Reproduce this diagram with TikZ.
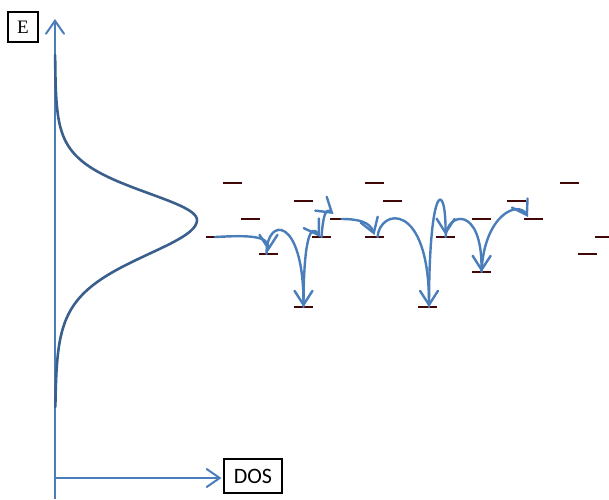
\documentclass[tikz,border=0pt]{standalone}
\usepackage{fontspec}
\newfontfamily\dosfont{Carlito}
\newfontfamily\efont{Liberation Serif}
\usetikzlibrary{arrows.meta}
\definecolor{hopblue}{HTML}{4A7EBB}
\definecolor{dosblue}{HTML}{3A5F8C}
\definecolor{levelred}{HTML}{420808}
\begin{document}
\begin{tikzpicture}[x=1pt,y=-1pt,
  level/.style={fill=levelred, draw=none, minimum width=19pt, minimum height=2.2pt, inner sep=0pt, outer sep=0pt},
  hop/.style={draw=hopblue, line width=2.4pt, line cap=round, line join=round,
              -{Straight Barb[length=14pt,width=18pt,line cap=round]}},
  axisline/.style={draw=hopblue, line width=2pt,
              -{Straight Barb[length=13pt,width=18pt,line cap=round]}},
  dosline/.style={draw=dosblue, line width=2.6pt, line cap=round},
  labelbox/.style={draw=black, line width=1.1pt, inner sep=0pt}]
\useasboundingbox (0,0) rectangle (609,499);

% energy axis and DOS axis
\coordinate (ybot) at (55,499);
\coordinate (ytop) at (55,19);
\coordinate (O) at (55,478);
\node[labelbox, minimum size=30pt, font=\efont\fontsize{19}{22}\selectfont] (E) at (23,27) {E};
\node[labelbox, minimum width=58pt, minimum height=34pt, font=\dosfont\fontsize{22}{24}\selectfont] (DOS) at (253,476) {DOS};
\draw[axisline] (ybot) -- (ytop);
\draw[axisline, shorten >=2pt] (O) -- (O -| DOS.west);

% density of states profile
\draw[dosline] plot[domain=55:220, samples=90, smooth] ({55+142/(cosh((\x-220)/40)^2)}, \x)
  -- plot[domain=220:407, samples=90, smooth] ({55+142/(cosh((\x-220)/51)^2)}, \x);

% localized states
\node[level] (L1)  at (232.5,183) {};
\node[level] (L2)  at (303.5,201) {};
\node[level] (L3)  at (374.5,183) {};
\node[level] (L4)  at (392.5,201) {};
\node[level] (L5)  at (250.5,219) {};
\node[level] (L6)  at (339.5,219) {};
\node[level] (L7)  at (215,237) {};
\node[level] (L8)  at (321.5,237) {};
\node[level] (L9)  at (374.5,237) {};
\node[level] (L10) at (268.5,254) {};
\node[level] (L11) at (303.5,307) {};
\node[level] (L12) at (569.5,183) {};
\node[level] (L13) at (516.5,201) {};
\node[level] (L14) at (481.5,219) {};
\node[level] (L15) at (533.5,219) {};
\node[level] (L16) at (445.5,237) {};
\node[level] (L17) at (604.5,237) {};
\node[level] (L18) at (481.5,272) {};
\node[level] (L19) at (587.5,254) {};
\node[level] (L20) at (427.5,307) {};

% hopping path
\draw[hop] (L7.center) .. controls +(35,-2) and +(0,-15) .. ([yshift=3pt]L10.center);
\draw[hop] ([xshift=-2pt]L10.center) .. controls +(0,-38) and +(0,-91) .. (L11.center);
\draw[hop] (L11.center) .. controls +(0,-67) and +(-9.5,-15) .. ([xshift=-1.5pt]L8.center);
\draw[hop] (L8.center) .. controls +(1.5,-19) and +(-8.5,-7) .. ([shift={(-6,-5)}]L6.center);
\draw[hop] ([xshift=2pt]L6.center) .. controls +(17,0) and +(-4.5,-13) .. ([yshift=2pt]L9.center);
\draw[hop] ([xshift=3pt]L9.center) .. controls +(2.5,-29) and +(0,-106) .. ([xshift=1.5pt]L20.center);
\draw[hop] ([xshift=1.5pt]L20.center) .. controls +(0,-126) and +(0.5,-55) .. ([yshift=2pt]L16.center);
\draw[hop] (L16.center) .. controls +(1.5,-25) and +(0.5,-67) .. (L18.center);
\draw[hop] (L18.center) .. controls +(2.5,-57) and +(-10,-17) .. ([shift={(-5.5,-2)}]L15.center);
\end{tikzpicture}
\end{document}
